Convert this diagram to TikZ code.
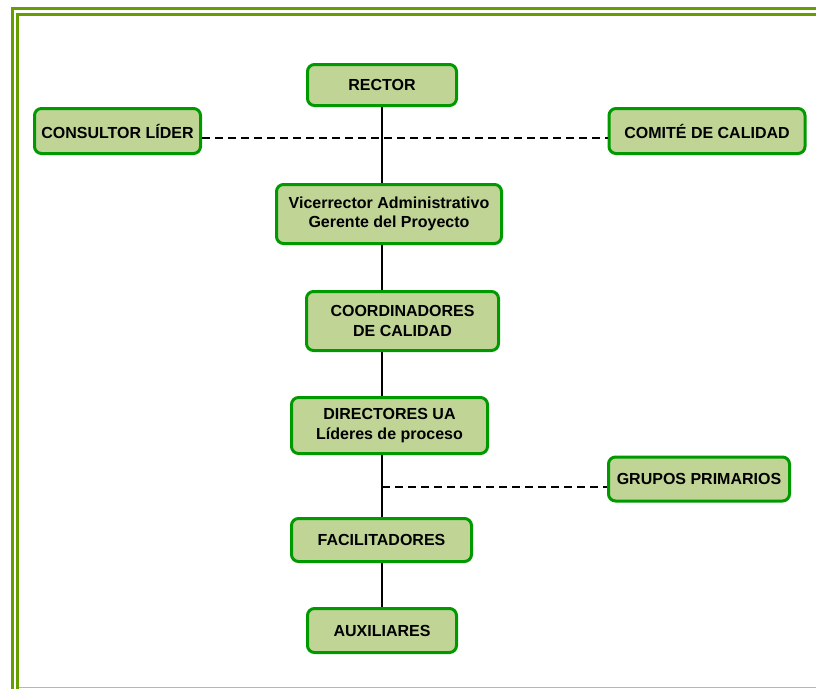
\documentclass[tikz,border=0pt]{standalone}
\usepackage{fontspec}
\setmainfont{Liberation Sans}
\begin{document}
\definecolor{framegreen}{RGB}{102,158,0}
\definecolor{framelight}{RGB}{170,200,125}
\definecolor{boxedge}{RGB}{0,153,0}
\definecolor{boxfill}{RGB}{192,212,150}
\begin{tikzpicture}[x=1pt,y=-1pt,
  orgbox/.style={draw=boxedge, line width=3pt, fill=boxfill, rounded corners=7pt,
    inner sep=0pt, align=center, font=\bfseries\fontsize{16}{19.5}\selectfont},
  solidlink/.style={draw=black, line width=1.5pt},
  dashlink/.style={draw=black, line width=1.5pt, dash pattern=on 8pt off 5pt}]
  \useasboundingbox (0,0) rectangle (816,688);
  % double page frame
  \draw[framegreen, line width=3pt] (12,694) -- (12,8) -- (822,8);
  \draw[framegreen, line width=3pt] (17,694) -- (17,14) -- (822,14);
  \draw[framelight, line width=1.5pt] (18.5,687.5) -- (822,687.5);
  % nodes
  \node[orgbox, minimum width=149pt, minimum height=41pt] (rector) at (382,85) {RECTOR};
  \node[orgbox, minimum width=166pt, minimum height=45pt] (consultor) at (117.5,131) {CONSULTOR LÍDER};
  \node[orgbox, minimum width=196pt, minimum height=45pt] (comite) at (707,131) {COMITÉ DE CALIDAD};
  \node[orgbox, minimum width=225pt, minimum height=59pt] (vice) at (389,214) {Vicerrector Administrativo\\Gerente del Proyecto};
  \node[orgbox, minimum width=192pt, minimum height=59pt] (coord) at (402.5,321) {COORDINADORES\\DE CALIDAD};
  \node[orgbox, minimum width=196pt, minimum height=56pt] (dir) at (389.5,425.5) {DIRECTORES UA\\Líderes de proceso};
  \node[orgbox, minimum width=181pt, minimum height=44pt] (grupos) at (699,479) {GRUPOS PRIMARIOS};
  \node[orgbox, minimum width=180pt, minimum height=43pt] (facil) at (381.5,540) {FACILITADORES};
  \node[orgbox, minimum width=149pt, minimum height=44pt] (aux) at (382,630.5) {AUXILIARES};
  % helper coordinates for the spine and the dashed branches
  \coordinate (spine) at (382,0);
  \coordinate (topdash) at (0,138);
  \coordinate (lowdash) at (0,487);
  \coordinate (j) at (spine |- lowdash);
  % connectors
  \draw[dashlink] (consultor.east |- topdash) -- (comite.west |- topdash);
  \draw[solidlink] (spine |- rector.south) -- (spine |- vice.north);
  \draw[solidlink] (spine |- vice.south) -- (spine |- coord.north);
  \draw[solidlink] (spine |- coord.south) -- (spine |- dir.north);
  \draw[solidlink] (spine |- dir.south) -- (spine |- facil.north);
  \draw[solidlink] (spine |- facil.south) -- (spine |- aux.north);
  \draw[dashlink] (j) -- (grupos.west |- j);
\end{tikzpicture}
\end{document}
